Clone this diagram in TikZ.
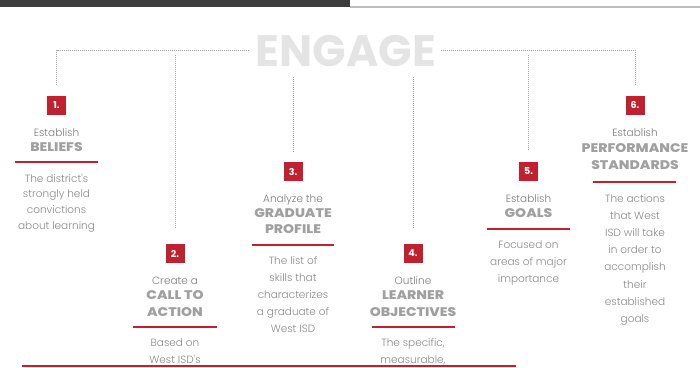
\documentclass[tikz,border=0pt]{standalone}
\usepackage{fontspec}
\setmainfont{Poppins}
\newfontfamily\lightfont{Poppins Light}
\newfontfamily\headfont{Poppins ExtraBold}[FakeStretch=1.12]
\usetikzlibrary{calc}
\definecolor{brandred}{HTML}{C1212F}
\definecolor{barDark}{HTML}{3D3D3D}
\definecolor{barLight}{HTML}{BEBEBE}
\definecolor{engagegray}{HTML}{E4E4E4}
\definecolor{verbgray}{HTML}{7C7C7C}
\definecolor{headgray}{HTML}{A0A0A0}
\definecolor{bodygray}{HTML}{8A8A8A}
\definecolor{dotgray}{HTML}{A3A3A3}
\begin{document}
\begin{tikzpicture}[x=1pt,y=-1pt,
  numbox/.style={fill=brandred, minimum size=19pt, inner sep=0pt, text=white,
    font=\bfseries\fontsize{9.5}{9.5}\selectfont},
  verb/.style={text=verbgray, font=\lightfont\fontsize{10.5}{12}\selectfont, anchor=base, inner sep=0pt},
  head/.style={text=headgray, font=\headfont\fontsize{12.5}{14}\selectfont, anchor=base, inner sep=0pt},
  % multi-line blocks are placed by the baseline of their last line
  body/.style={text=bodygray, font=\lightfont\fontsize{10.5}{#1}\selectfont, align=center, anchor=base, inner sep=0pt},
  rule/.style={draw=brandred, line width=1.5pt},
  link/.style={draw=dotgray, line width=1pt, dash pattern=on 1pt off 1pt}]
\useasboundingbox (0,0) rectangle (700,367);

% header strip
\fill[barDark] (0,0) rectangle (350,7);
\fill[barLight] (350,5.5) rectangle (700,7.5);

% title
\node[text=engagegray, font=\bfseries\fontsize{44}{44}\selectfont, inner sep=0pt] (engage) at (346,51) {ENGAGE};

% numbered markers
\node[numbox] (n1) at (56.5,105) {1.};
\node[numbox] (n2) at (175,253.5) {2.};
\node[numbox] (n3) at (293,171.5) {3.};
\node[numbox] (n4) at (413,253.5) {4.};
\node[numbox] (n5) at (528.5,171.5) {5.};
\node[numbox] (n6) at (635,105) {6.};

% dotted links from the title
\coordinate (tl) at (249,50);
\coordinate (tr) at (441,50);
\draw[link] (tl) -| ($(n1.north)+(0,-10)$);
\draw[link] (tr) -| ($(n6.north)+(0,-10)$);
\coordinate (s2) at (175,55);
\coordinate (s3) at (293,77);
\coordinate (s4) at (413,77);
\coordinate (s5) at (528.5,55);
\draw[link] (s2) -- ($(n2.north)+(0,-16)$);
\draw[link] (s3) -- ($(n3.north)+(0,-10)$);
\draw[link] (s4) -- ($(n4.north)+(0,-15)$);
\draw[link] (s5) -- ($(n5.north)+(0,-11)$);

% step 1
\node[verb] (v1) at (56.5,136) {Establish};
\node[head] (h1) at (56.5,151.5) {BELIEFS};
\draw[rule] (15,162) -- (98,162);
\node[body=15.8] (b1) at (56.5,229.4) {The district's\\strongly held\\convictions\\about learning};

% step 2
\node[verb] (v2) at (175,284) {Create a};
\node[head] (h2a) at (175,299.5) {CALL TO};
\node[head] (h2b) at (175,316) {ACTION};
\draw[rule] (133,327) -- (217,327);
\node[body=17] (b2) at (175,363) {Based on\\West ISD's};

% step 3
\node[verb] (v3) at (293,202) {Analyze the};
\node[head] (h3a) at (293,217.5) {GRADUATE};
\node[head] (h3b) at (293,233) {PROFILE};
\draw[rule] (252,245) -- (334,245);
\node[body=17.2] (b3) at (293,332.8) {The list of\\skills that\\characterizes\\a graduate of\\West ISD};

% step 4
\node[verb] (v4) at (413,284) {Outline};
\node[head] (h4a) at (413,299.5) {LEARNER};
\node[head] (h4b) at (413,316) {OBJECTIVES};
\draw[rule] (372,327) -- (455,327);
\node[body=17] (b4) at (413,363) {The specific,\\measurable,};

% step 5
\node[verb] (v5) at (528.5,202) {Establish};
\node[head] (h5) at (528.5,217.5) {GOALS};
\draw[rule] (487,229) -- (570,229);
\node[body=17.3] (b5) at (528.5,282.6) {Focused on\\areas of major\\importance};

% step 6
\node[verb] (v6) at (635,136) {Establish};
\node[head] (h6a) at (635,152) {PERFORMANCE};
\node[head] (h6b) at (635,169) {STANDARDS};
\draw[rule] (593,182) -- (676,182);
\node[body=17.2] (b6) at (635,322.4) {The actions\\that West\\ISD will take\\in order to\\accomplish\\their\\established\\goals};

% footer rule
\draw[draw=brandred, line width=2.5pt] (22,366) -- (516,366);
\end{tikzpicture}
\end{document}
